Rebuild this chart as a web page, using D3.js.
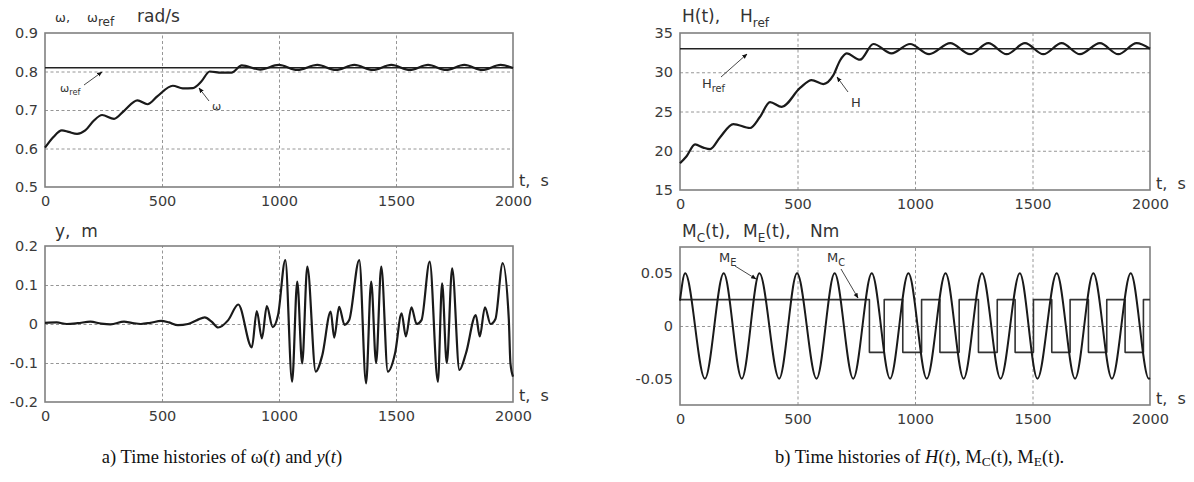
<!DOCTYPE html>
<html><head><meta charset="utf-8">
<script src="https://cdn.jsdelivr.net/npm/d3@7"></script>
<style>
html,body{margin:0;padding:0;background:#fff;}
svg{display:block;}
</style></head>
<body>
<script>
// ---------------- DATA ----------------
const timeTicks = [0, 500, 1000, 1500, 2000];

const omegaTicks = [0.5, 0.6, 0.7, 0.8, 0.9];
const omegaRef = 0.81;
const omega = [[0,0.602],[36,0.630],[72,0.647],[101,0.643],[137,0.638],[172,0.647],[208,0.672],[244,0.687],[295,0.677],[338,0.698],[395,0.725],[438,0.715],[481,0.736],[546,0.763],[589,0.756],[632,0.757],[668,0.774],[704,0.800],[754,0.797],[797,0.797],[841,0.816],[920,0.805],[999,0.817],[1078,0.804],[1164,0.817],[1243,0.804],[1322,0.817],[1401,0.804],[1480,0.817],[1559,0.804],[1637,0.817],[1714,0.804],[1792,0.817],[1869,0.804],[1947,0.817],[2000,0.809]];

const yTicks = [-0.2, -0.1, 0, 0.1, 0.2];
const yDisp = [[0,0.003],[50,0.004],[93,0.0],[140,0.002],[194,0.006],[240,0.001],[280,-0.001],[338,0.006],[370,0.003],[410,0.0],[450,0.003],[496,0.008],[530,0.004],[568,-0.003],[611,0.0],[650,0.01],[683,0.017],[712,0.006],[740,-0.009],[783,0.01],[826,0.05],[884,-0.06],[905,0.033],[927,-0.037],[948,0.046],[973,-0.008],[996,0.023],[1027,0.164],[1056,-0.148],[1078,0.109],[1099,-0.101],[1121,0.147],[1157,-0.122],[1185,-0.08],[1221,0.032],[1236,-0.035],[1257,0.044],[1280,-0.002],[1300,0.01],[1343,0.164],[1372,-0.152],[1394,0.109],[1415,-0.1],[1437,0.147],[1465,-0.122],[1496,-0.075],[1524,0.027],[1542,-0.032],[1566,0.043],[1588,0.0],[1609,0.01],[1644,0.16],[1679,-0.148],[1697,0.104],[1717,-0.1],[1740,0.143],[1771,-0.118],[1799,-0.075],[1841,0.023],[1858,-0.032],[1880,0.043],[1904,0.0],[1925,0.013],[1956,0.156],[1982,0.013],[1989,-0.1],[2000,-0.135]];

const hTicks = [15, 20, 25, 30, 35];
const hRef = 33;
const hSeries = [[0,18.4],[28,19.3],[64,20.8],[99,20.4],[128,20.2],[170,21.7],[227,23.4],[298,22.9],[340,24.3],[383,26.2],[433,25.6],[511,28.0],[560,29.0],[610,28.5],[652,29.6],[681,31.5],[709,32.4],[766,31.6],[823,33.6],[900,32.4],[979,33.6],[1060,32.3],[1150,33.7],[1234,32.3],[1312,33.7],[1390,32.3],[1468,33.7],[1546,32.3],[1624,33.7],[1702,32.3],[1787,33.7],[1865,32.3],[1943,33.7],[2000,33.0]];

const mTicks = [-0.05, 0, 0.05];
const mE = [[0,0.024],[22,0.05],[106,-0.05],[186,0.05],[263,-0.05],[338,0.05],[422,-0.05],[498,0.05],[581,-0.05],[658,0.05],[737,-0.05],[816,0.05],[894,-0.05],[972,0.05],[1050,-0.05],[1130,0.05],[1207,-0.05],[1285,0.05],[1364,-0.05],[1446,0.05],[1521,-0.05],[1603,0.05],[1681,-0.05],[1759,0.05],[1838,-0.05],[1918,0.05],[1995,-0.05],[2000,-0.0495]];
const mC = [[0,0.025],[806,-0.025],[869,0.025],[948,-0.025],[1028,0.025],[1106,-0.025],[1188,0.025],[1270,-0.025],[1350,0.025],[1426,-0.025],[1504,0.025],[1582,-0.025],[1660,0.025],[1738,-0.025],[1816,0.025],[1894,-0.025],[1972,0.025],[2000,0.025]];

// ---------------- DRAWING ----------------
const W = 1194, Hh = 482;
const svg = d3.select("body").append("svg").attr("width", W).attr("height", Hh);
const defs = svg.append("defs");
defs.append("marker").attr("id","ah").attr("viewBox","0 0 10 10")
  .attr("refX",9).attr("refY",5).attr("markerWidth",6).attr("markerHeight",6)
  .attr("orient","auto").append("path").attr("d","M0,1L10,5L0,9Z").attr("fill","#111");

const SANS = '"DejaVu Sans", sans-serif';

function panel(o) {
  const x = d3.scaleLinear().domain([0, 2000]).range([o.x0, o.x1]);
  const y = d3.scaleLinear().domain(o.yd).range([o.y1, o.y0]);
  const g = svg.append("g");
  const gridStyle = s => { s.select(".domain").remove(); s.selectAll("line").attr("stroke","#8a8a8a").attr("stroke-width",0.9).attr("stroke-dasharray","3,2.5"); };
  g.append("g").attr("transform", `translate(0,${o.y1})`)
    .call(d3.axisBottom(x).tickValues(timeTicks.slice(1,-1)).tickSize(-(o.y1-o.y0)).tickFormat(""))
    .call(gridStyle);
  g.append("g").attr("transform", `translate(${o.x0},0)`)
    .call(d3.axisLeft(y).tickValues(o.ticks.slice(1,-1)).tickSize(-(o.x1-o.x0)).tickFormat(""))
    .call(gridStyle);
  g.append("rect").attr("x", o.x0).attr("y", o.y0).attr("width", o.x1-o.x0).attr("height", o.y1-o.y0)
    .attr("fill","none").attr("stroke","#808080").attr("stroke-width",1.6);
  const lab = s => { s.select(".domain").remove(); s.selectAll("text").attr("font-size",14.5).attr("fill","#3a3a3a").attr("font-family",SANS); };
  g.append("g").attr("transform", `translate(${o.x0},0)`)
    .call(d3.axisLeft(y).tickValues(o.ticks).tickSize(0).tickPadding(7).tickFormat(o.fmt))
    .call(lab);
  g.append("g").attr("transform", `translate(0,${o.y1})`)
    .call(d3.axisBottom(x).tickValues(timeTicks).tickSize(0).tickPadding(9).tickFormat(d => String(d)))
    .call(lab);
  g.append("text").attr("x", o.x1 + 6).attr("y", o.y1 - 1).attr("font-family",SANS)
    .attr("font-size",16).attr("fill","#333").attr("xml:space","preserve").text("t,  s");
  return {x, y, g};
}

function line(p, data, curve, w, col) {
  p.g.append("path").datum(data)
    .attr("d", d3.line().x(d => p.x(d[0])).y(d => p.y(d[1])).curve(curve))
    .attr("fill","none").attr("stroke", col || "#1a1a1a").attr("stroke-width", w)
    .attr("stroke-linejoin","round");
}
function arrow(x1,y1,x2,y2){
  svg.append("line").attr("x1",x1).attr("y1",y1).attr("x2",x2).attr("y2",y2)
    .attr("stroke","#333").attr("stroke-width",0.9).attr("marker-end","url(#ah)");
}
function label(x, y, parts, size) {
  const t = svg.append("text").attr("x", x).attr("y", y).attr("font-family", SANS)
    .attr("font-size", size).attr("fill", "#333").attr("xml:space","preserve");
  parts.forEach(p => {
    const s = t.append("tspan").text(p.t);
    if (p.x != null) s.attr("x", p.x);
    if (p.sub) s.attr("dy", size * 0.3).attr("font-size", p.fs || size * 0.75);
    else if (p.fs) s.attr("font-size", p.fs);
    if (p.up) s.attr("dy", -size * 0.3);
  });
  return t;
}

const hy = s => s.replace("\u2212", "-");
const fmt1 = d => hy(d3.format(".1f")(d));
const fmtY = d => d === 0 ? "0" : hy(d3.format(".1f")(d));
const fmtM = d => d === 0 ? "0" : hy(d3.format(".2f")(d));

// Panel a top: omega
const pA = panel({x0:45, x1:513, y0:33, y1:187, yd:[0.5,0.9], ticks:omegaTicks, fmt:fmt1});
line(pA, [[0,omegaRef],[2000,omegaRef]], d3.curveLinear, 1.5, "#222");
line(pA, omega, d3.curveMonotoneX, 2.2);
// Panel a bottom: y
const pB = panel({x0:45, x1:513, y0:246, y1:402, yd:[-0.2,0.2], ticks:yTicks, fmt:fmtY});
line(pB, yDisp, d3.curveMonotoneX, 2.2);
// Panel b top: H
const pC = panel({x0:680, x1:1150, y0:33, y1:190, yd:[15,35], ticks:hTicks, fmt:d3.format("d")});
line(pC, [[0,hRef],[2000,hRef]], d3.curveLinear, 1.6, "#222");
line(pC, hSeries, d3.curveMonotoneX, 2.2);
// Panel b bottom: moments
const pD = panel({x0:680, x1:1150, y0:247, y1:405, yd:[-0.075,0.075], ticks:mTicks, fmt:fmtM});
line(pD, mC, d3.curveStepAfter, 1.6, "#333");
line(pD, mE, d3.curveMonotoneX, 2.0);

// titles
label(55, 22, [{t:"ω,", fs:13},{t:"ω", x:87, fs:13},{t:"ref", sub:true, fs:12},{t:"rad/s", x:137, up:true, fs:17}], 13);
label(55, 237, [{t:"y,  m"}], 17);
label(682, 22, [{t:"H(t),"},{t:"H", x:740},{t:"ref", sub:true, fs:12}], 17);
label(682, 237, [{t:"M"},{t:"C", sub:true, fs:12},{t:"(t),", up:true},{t:"M", x:743},{t:"E", sub:true, fs:12},{t:"(t),", up:true},{t:"Nm", x:810}], 17);

// callouts
label(60, 92, [{t:"ω"},{t:"ref", sub:true}], 11);
arrow(84, 85, 102, 72);
label(212, 110, [{t:"ω"}], 11);
arrow(209, 101, 199, 88);
label(702, 88, [{t:"H"},{t:"ref", sub:true}], 13);
arrow(721, 77, 747, 54);
label(851, 107, [{t:"H"}], 13);
arrow(848, 92, 837, 77);
label(719, 262, [{t:"M"},{t:"E", sub:true}], 13);
arrow(735, 266, 756, 279);
label(827, 262, [{t:"M"},{t:"C", sub:true}], 13);
arrow(841, 269, 858, 298);

// captions
const SERIF = '"Liberation Serif", "Times New Roman", serif';
const capA = svg.append("text").attr("x", 222).attr("y", 463).attr("text-anchor","middle")
  .attr("font-family", SERIF).attr("font-size", 18.5).attr("fill","#111");
capA.append("tspan").text("a) Time histories of ω(");
capA.append("tspan").attr("font-style","italic").text("t");
capA.append("tspan").text(") and ");
capA.append("tspan").attr("font-style","italic").text("y");
capA.append("tspan").text("(");
capA.append("tspan").attr("font-style","italic").text("t");
capA.append("tspan").text(")");

const capB = svg.append("text").attr("x", 775).attr("y", 463)
  .attr("font-family", SERIF).attr("font-size", 18.5).attr("fill","#111");
capB.append("tspan").text("b) Time histories of ");
capB.append("tspan").attr("font-style","italic").text("H");
capB.append("tspan").text("(");
capB.append("tspan").attr("font-style","italic").text("t");
capB.append("tspan").text("), M");
capB.append("tspan").attr("dy",3).attr("font-size",13.5).text("C");
capB.append("tspan").attr("dy",-3).text("(t), M");
capB.append("tspan").attr("dy",3).attr("font-size",13.5).text("E");
capB.append("tspan").attr("dy",-3).text("(t).");
</script>
</body></html>
